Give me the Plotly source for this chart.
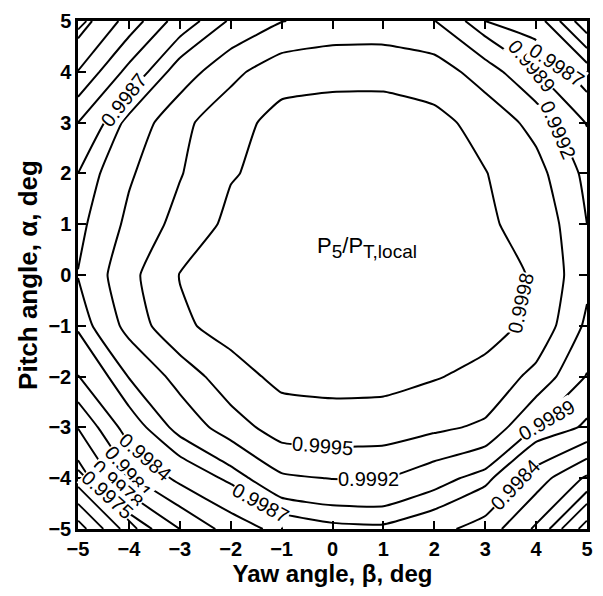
import numpy as np
import plotly.graph_objects as go

# Yaw (beta) and pitch (alpha) grid, degrees
beta = [-5, -4, -3, -2, -1, 0, 1, 2, 3, 4, 5]
alpha = [-5, -4, -3, -2, -1, 0, 1, 2, 3, 4, 5]

# P5/PT,local, one row per pitch angle (alpha = -5 ... 5), columns beta = -5 ... 5
p_ratio = [
    [0.99660, 0.99725, 0.99780, 0.99823, 0.99850, 0.99863, 0.99865, 0.99850, 0.99827, 0.99775, 0.99680],
    [0.99733, 0.99805, 0.99848, 0.99876, 0.99915, 0.99921, 0.99921, 0.99902, 0.99878, 0.99825, 0.99775],
    [0.99781, 0.99855, 0.99899, 0.99935, 0.99965, 0.99968, 0.99966, 0.99956, 0.99945, 0.99888, 0.99866],
    [0.99839, 0.99891, 0.99931, 0.99969, 0.99987, 0.99989, 0.99989, 0.99982, 0.99972, 0.99941, 0.99888],
    [0.99874, 0.99930, 0.99975, 0.99990, 0.99993, 0.99994, 0.99994, 0.99992, 0.99990, 0.99973, 0.99914],
    [0.99891, 0.99941, 0.99981, 0.99989, 0.99993, 0.99995, 0.99995, 0.99994, 0.99992, 0.99977, 0.99928],
    [0.99882, 0.99927, 0.99960, 0.99987, 0.99992, 0.99995, 0.99996, 0.99994, 0.99982, 0.99975, 0.99920],
    [0.99870, 0.99916, 0.99948, 0.99978, 0.99989, 0.99993, 0.99994, 0.99992, 0.99981, 0.99961, 0.99912],
    [0.99840, 0.99898, 0.99942, 0.99969, 0.99990, 0.99992, 0.99991, 0.99988, 0.99970, 0.99940, 0.99888],
    [0.99781, 0.99850, 0.99903, 0.99942, 0.99968, 0.99972, 0.99973, 0.99965, 0.99936, 0.99890, 0.99858],
    [0.99734, 0.99792, 0.99855, 0.99893, 0.99919, 0.99930, 0.99930, 0.99921, 0.99870, 0.99858, 0.99755],
]

# Contour levels that are drawn
levels = [0.9975, 0.9978, 0.9981, 0.9984, 0.9987, 0.9989, 0.9992, 0.9995, 0.9998]
# Below this value the corners are cross-hatched
hatch_limit = 0.9975

# Inline contour labels: level and the (beta, alpha) spot it is placed near
label_levels = [0.9987, 0.9989, 0.9987, 0.9992, 0.9998, 0.9989, 0.9984,
                0.9995, 0.9992, 0.9987, 0.9984, 0.9981, 0.9978, 0.9975]
label_beta = [-4.15, 3.90, 4.42, 4.30, 3.85, 4.10, 3.60,
              -0.20, 0.71, -1.43, -3.55, -3.80, -4.05, -4.30]
label_alpha = [3.49, 4.10, 4.15, 2.79, -0.55, -2.60, -4.15,
               -3.41, -4.01, -4.50, -3.45, -3.70, -3.95, -4.20]

FONT = "Liberation Sans, Arial, Helvetica, sans-serif"

bx = np.array(beta, dtype=float)
ay = np.array(alpha, dtype=float)
Z = np.array(p_ratio, dtype=float)


def interp(xq, yq):
    """Bilinear interpolation of the pressure-ratio table."""
    xq = np.asarray(xq, dtype=float)
    yq = np.asarray(yq, dtype=float)
    i = np.clip(np.searchsorted(bx, xq) - 1, 0, len(bx) - 2)
    j = np.clip(np.searchsorted(ay, yq) - 1, 0, len(ay) - 2)
    tx = (xq - bx[i]) / (bx[i + 1] - bx[i])
    ty = (yq - ay[j]) / (ay[j + 1] - ay[j])
    return (Z[j, i] * (1 - tx) * (1 - ty) + Z[j, i + 1] * tx * (1 - ty)
            + Z[j + 1, i] * (1 - tx) * ty + Z[j + 1, i + 1] * tx * ty)


def hatch_lines(spacing=0.235):
    """Parallel hatch strokes in each corner where the ratio is below hatch_limit."""
    xs, ys = [], []
    lo, hi = bx.min(), bx.max()
    for sx in (-1, 1):
        for sy in (-1, 1):
            n = np.array([sx, sy]) / np.sqrt(2.0)
            w = np.array([-sy, sx]) / np.sqrt(2.0)
            d = np.hypot(hi, hi) - spacing / 2
            while d > 3.0:
                t = np.arange(-8.0, 8.0, 0.005)
                px = d * n[0] + t * w[0]
                py = d * n[1] + t * w[1]
                inside = (px >= lo) & (px <= hi) & (py >= lo) & (py <= hi)
                inside &= (sx * px > 0) & (sy * py > 0)
                keep = np.zeros_like(inside)
                keep[inside] = interp(px[inside], py[inside]) < hatch_limit
                run = []
                for k in range(len(t)):
                    if keep[k]:
                        run.append((px[k], py[k]))
                    elif run:
                        if len(run) > 1:
                            xs += [run[0][0], run[-1][0], None]
                            ys += [run[0][1], run[-1][1], None]
                        run = []
                if len(run) > 1:
                    xs += [run[0][0], run[-1][0], None]
                    ys += [run[0][1], run[-1][1], None]
                d -= spacing
    return xs, ys


def place_label(level, x0, y0):
    """Nearest point of a contour level to (x0, y0) and the text angle along it."""
    g = np.linspace(-5, 5, 801)
    GX, GY = np.meshgrid(g, g)
    GZ = interp(GX.ravel(), GY.ravel()).reshape(GX.shape)
    near = np.abs(GZ - level) < 4e-6
    if near.any():
        d2 = (GX - x0) ** 2 + (GY - y0) ** 2
        d2[~near] = np.inf
        k = np.unravel_index(np.argmin(d2), d2.shape)
        x, y = GX[k], GY[k]
    else:
        x, y = x0, y0
    h = 0.05
    gx = (interp(x + h, y) - interp(x - h, y)) / (2 * h)
    gy = (interp(x, y + h) - interp(x, y - h)) / (2 * h)
    ang = np.degrees(np.arctan2(-gx, -gy))  # screen angle of the tangent (-gy, gx)
    ang = (ang + 90) % 180 - 90
    return float(x), float(y), float(ang)


fig = go.Figure()

for lev in levels:
    fig.add_trace(go.Contour(
        x=beta, y=alpha, z=p_ratio,
        autocontour=False,
        contours=dict(start=lev, end=lev, size=0.0001, coloring="none",
                      showlabels=False),
        line=dict(color="black", width=2, smoothing=0.4),
        showscale=False, hoverinfo="skip",
    ))

hx, hy = hatch_lines()
fig.add_trace(go.Scatter(x=hx, y=hy, mode="lines",
                         line=dict(color="black", width=1.8),
                         hoverinfo="skip", showlegend=False))

for lev, lx, ly in zip(label_levels, label_beta, label_alpha):
    x, y, ang = place_label(lev, lx, ly)
    fig.add_annotation(x=x, y=y, xref="x", yref="y", showarrow=False,
                       text=f"{lev:.4f}", textangle=ang,
                       bgcolor="white", borderpad=0,
                       font=dict(family=FONT, size=20, color="black"))

fig.add_annotation(
    x=0.67, y=0.55, xref="x", yref="y", showarrow=False,
    text=("P<sub><span style='font-size:19px'>5</span></sub>/"
          "P<sub><span style='font-size:19px'>T,local</span></sub>"),
    font=dict(family=FONT, size=22, color="black"))

axis_common = dict(
    range=[-5, 5], dtick=1, tick0=-5,
    ticks="inside", ticklen=8, tickwidth=1.5, tickcolor="black",
    showline=True, linecolor="black", linewidth=2.5, mirror="allticks",
    showgrid=False, zeroline=False,
    tickfont=dict(family=FONT, size=20, color="black", weight="bold"),
)

fig.update_xaxes(**axis_common,
                 title=dict(text="Yaw angle, β, deg", standoff=4,
                            font=dict(family=FONT, size=24, color="black", weight="bold")))
fig.update_yaxes(**axis_common,
                 title=dict(text="Pitch angle, α, deg", standoff=4,
                            font=dict(family=FONT, size=26, color="black", weight="bold")))

fig.update_layout(
    width=603, height=596,
    margin=dict(l=78, r=10, t=14, b=67),
    paper_bgcolor="white", plot_bgcolor="white",
    showlegend=False,
)

fig.write_html("out.html")
